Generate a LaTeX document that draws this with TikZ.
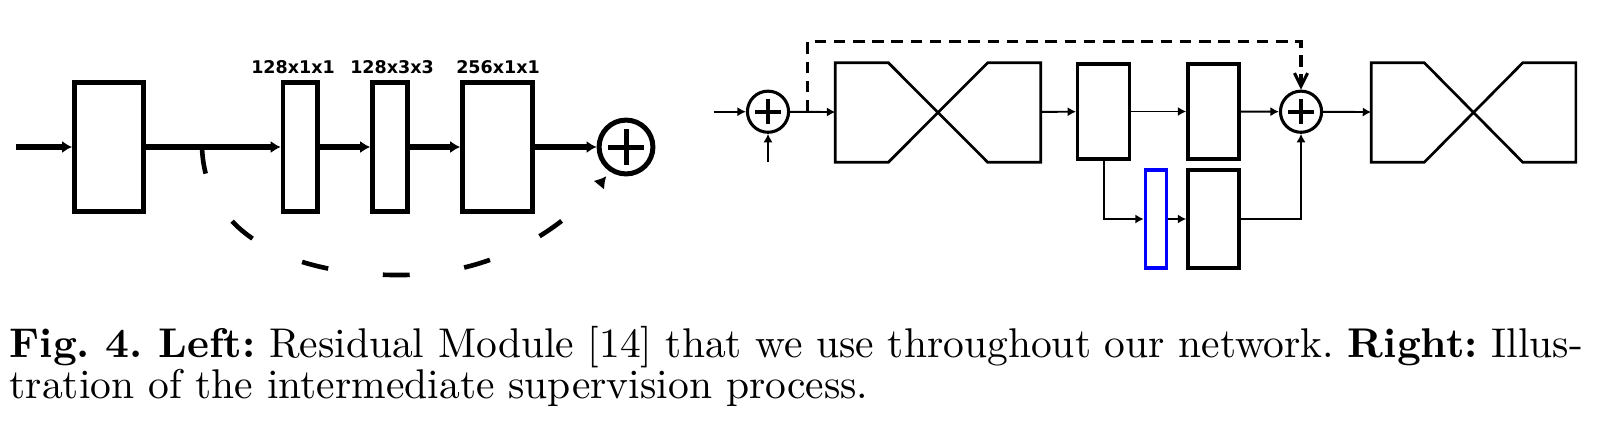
\documentclass[tikz,border=0pt]{standalone}
\usepackage{fontspec}
\newfontfamily\dimfont{DejaVu Sans}
\usetikzlibrary{arrows.meta,calc}

\begin{document}
\begin{tikzpicture}[x=0.26pt,y=-0.26pt]
    \useasboundingbox (0,0) rectangle (1613,422);
    \begin{scope}[inner sep=0pt,
    		block/.style={rectangle,draw,line width=1.2pt},
    		slimblock/.style={rectangle,draw,line width=0.9pt},
    		plusnode/.style={circle,draw,line width=1.3pt,minimum size=14pt,
    			path picture={\draw[line width=1.3pt]
    			([xshift=-4.6pt]path picture bounding box.center) -- ([xshift=4.6pt]path picture bounding box.center)
    			([yshift=-4.6pt]path picture bounding box.center) -- ([yshift=4.6pt]path picture bounding box.center);}},
    		smallplus/.style={circle,draw,line width=0.8pt,minimum size=10.7pt,
    			path picture={\draw[line width=1.1pt]
    			([xshift=-3.3pt]path picture bounding box.center) -- ([xshift=3.3pt]path picture bounding box.center)
    			([yshift=-3.3pt]path picture bounding box.center) -- ([yshift=3.3pt]path picture bounding box.center);}},
    		hourglass/.style={line width=0.7pt},
    		dimlabel/.style={font=\dimfont\bfseries\fontsize{4.55}{5}\selectfont},
    		arrow/.style={black, -{Latex[length=2.6pt,width=3.2pt]}, line width=1.5pt},
    		link/.style={black, -{Latex[length=2.2pt,width=2.4pt]}, line width=0.5pt},
    		skipline/.style={black, -{Latex[length=3pt,width=3.6pt]}, line width=1.2pt,
    			dash pattern=on 7pt off 14.3pt},
    		skiplink/.style={black, -{Straight Barb[length=3.4pt,width=3.4pt]}, line width=0.8pt,
    			dash pattern=on 3pt off 2pt}]

    % left: residual module
    \coordinate (inL) at (15.8,147);
    \node[block] (box1) at (108.8,147) [minimum width=17.9pt, minimum height=33.4pt] {};
    \node[block] (box2) at (300.3,147) [minimum width=9pt, minimum height=33.4pt] {};
    \node[block] (box3) at (390,147) [minimum width=9.1pt, minimum height=33.4pt] {};
    \node[block] (box4) at (497.5,147) [minimum width=18.2pt, minimum height=33.4pt] {};
    \node[plusnode] (addL) at (626,147) {};
    \coordinate (skipL) at (202,147);

    \node[dimlabel] (lab1) at (293,66.7) {128x1x1};
    \node[dimlabel] (lab2) at (392,66.7) {128x3x3};
    \node[dimlabel] (lab3) at (498,66.7) {256x1x1};

    \draw[arrow] (inL) -- (box1);
    \path[every edge/.style={draw,arrow}]
    (box1) edge (box2)
    (box2) edge (box3)
    (box3) edge (box4)
    (box4) edge (addL);

    \draw[skipline, shorten >=1.5pt] (skipL) .. controls (205,240) and (300,275) .. (397,275)
        .. controls (492,276) and (562,230) .. (addL.237);

    % right: intermediate supervision
    \coordinate (inR) at (713.5,111.7);
    \coordinate (upR) at (768,162);
    \node[smallplus] (addA) at (768,111.7) {};
    \coordinate (fork) at (807.6,111.7);
    \node (hg1) at (938,112.5) [minimum width=53pt, minimum height=25.5pt] {};
    \node[slimblock] (boxA) at (1103.7,111.5) [minimum width=13.5pt, minimum height=24.7pt] {};
    \node[slimblock] (boxB) at (1213.5,111.5) [minimum width=13.3pt, minimum height=24.7pt] {};
    \node[smallplus] (addB) at (1301,111.7) {};
    \node (hg2) at (1473.5,112.5) [minimum width=52.8pt, minimum height=25.5pt] {};
    \node[slimblock, draw=blue] (heat) at (1156,219) [minimum width=5.5pt, minimum height=25.5pt] {};
    \node[slimblock] (boxC) at (1213.5,219) [minimum width=13.3pt, minimum height=25.5pt] {};
    \coordinate (top) at (1301,41.7);

    \foreach \h in {hg1,hg2}
      \draw[hourglass] (\h.north west) -- ++(53,0) -- ($(\h.south east)+(-53,0)$) -- (\h.south east)
        -- (\h.north east) -- ++(-53,0) -- ($(\h.south west)+(53,0)$) -- (\h.south west) -- cycle;

    \draw[link] (inR) -- (addA);
    \draw[link] (upR) -- (addA);
    \path[every edge/.style={draw,link}]
    (addA) edge (hg1)
    (hg1) edge (boxA)
    (boxA) edge (boxB)
    (boxB) edge (addB)
    (addB) edge (hg2)
    (heat) edge (boxC);
    \draw[link] (boxA.south) |- (heat);
    \draw[link] (boxC) -| (addB);
    \draw[skiplink] (fork) |- (top) -- (addB);

    % caption
    \node[anchor=base west, text width=409pt, align=justify,
          font=\fontsize{10.8}{10.7}\selectfont\frenchspacing] (caption) at (9,357)
      {\textbf{Fig.~4. Left:} Residual Module [14] that we use throughout our network. \textbf{Right:} Illus-\linebreak
       tration of the intermediate supervision process.};
    \end{scope}
\end{tikzpicture}
\end{document}
